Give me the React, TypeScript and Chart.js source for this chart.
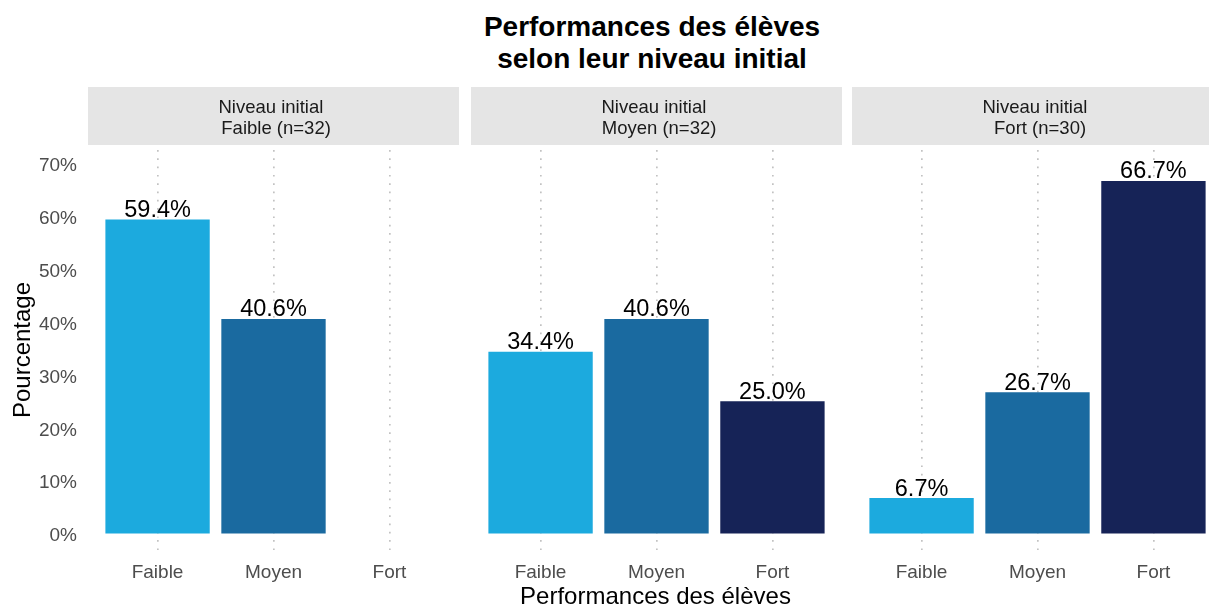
import React, { useEffect, useRef } from "react";
import { Chart, registerables } from "chart.js";

Chart.register(...registerables);

// ---- Data ----
const categories = ["Faible", "Moyen", "Fort"];
const panelTitle = "Niveau initial ";
const panelLabels = [" Faible (n=32)", " Moyen (n=32)", " Fort (n=30)"];
const faibleInitialValues: (number | null)[] = [59.4, 40.6, null];
const moyenInitialValues: (number | null)[] = [34.4, 40.6, 25.0];
const fortInitialValues: (number | null)[] = [6.7, 26.7, 66.7];
const yTicks = [0, 10, 20, 30, 40, 50, 60, 70];
const barColors = ["#1CAADE", "#1A6AA0", "#162357"];

const FONT = "'Liberation Sans', Arial, Helvetica, sans-serif";

const stripPlugin = {
  id: "strip",
  beforeDraw(chart: any, _args: any, opts: any) {
    const { ctx, chartArea } = chart;
    ctx.save();
    ctx.fillStyle = "#E5E5E5";
    ctx.fillRect(chartArea.left, 0, chartArea.right - chartArea.left, 58);
    ctx.fillStyle = "#1A1A1A";
    ctx.font = `18.5px ${FONT}`;
    ctx.textAlign = "center";
    ctx.textBaseline = "alphabetic";
    const cx = (chartArea.left + chartArea.right) / 2;
    const lines: string[] = opts.lines || [];
    lines.forEach((l, i) => ctx.fillText(l, cx, 26 + i * 21));
    ctx.restore();
  },
};

const valueLabelPlugin = {
  id: "valueLabels",
  afterDatasetsDraw(chart: any) {
    const ctx = chart.ctx;
    const meta = chart.getDatasetMeta(0);
    const ds = chart.data.datasets[0].data as any[];
    ctx.save();
    ctx.font = `23.5px ${FONT}`;
    ctx.fillStyle = "#000000";
    ctx.textAlign = "center";
    ctx.textBaseline = "alphabetic";
    meta.data.forEach((el: any, i: number) => {
      const v = ds[i].y;
      if (v === null || v === undefined) return;
      ctx.fillText(v.toFixed(1) + "%", el.x, el.y - 2.5);
    });
    ctx.restore();
  },
};

type PanelProps = {
  values: (number | null)[];
  label: string;
  showY: boolean;
  left: number;
  width: number;
};

const TOP = 87;
const HEIGHT = 513;

function Panel({ values, label, showY, left, width }: PanelProps) {
  const ref = useRef<HTMLCanvasElement | null>(null);
  useEffect(() => {
    if (!ref.current) return;
    const chart = new Chart(ref.current, {
      type: "bar",
      data: {
        datasets: [
          {
            data: categories.map((_, i) => ({ x: i, y: values[i] })) as any,
            backgroundColor: barColors,
            borderWidth: 0,
            barPercentage: 0.9,
            categoryPercentage: 1,
          },
        ],
      },
      options: {
        animation: false,
        responsive: false,
        devicePixelRatio: 1,
        layout: { padding: { top: 58, left: 0, right: 0, bottom: 0 } },
        plugins: {
          legend: { display: false },
          tooltip: { enabled: false },
          title: { display: false },
          strip: { lines: [panelTitle, label] },
        } as any,
        scales: {
          x: {
            type: "linear",
            min: -0.6,
            max: 2.6,
            offset: false,
            grid: {
              display: true,
              offset: false,
              drawTicks: false,
              color: "#C2C2C2",
              lineWidth: 1.7,
            },
            border: { display: false, dash: [1.7, 6.6], dashOffset: 3.3 },
            afterBuildTicks: (s: any) => {
              s.ticks = categories.map((_, i) => ({ value: i }));
            },
            afterFit: (s: any) => {
              s.height = 48;
            },
            ticks: {
              callback: (v: any) => categories[v as number],
              font: { family: FONT, size: 19 },
              color: "#4D4D4D",
              padding: 9,
              maxRotation: 0,
              autoSkip: false,
            },
          } as any,
          y: {
            display: showY,
            min: -3.5,
            max: 73.5,
            grid: { display: false, drawTicks: false },
            border: { display: false },
            afterBuildTicks: (s: any) => {
              s.ticks = yTicks.map((v) => ({ value: v }));
            },
            afterFit: (s: any) => {
              s.width = showY ? 88 : 0;
            },
            ticks: {
              callback: (v: any) => v + "%",
              font: { family: FONT, size: 19 },
              color: "#4D4D4D",
              padding: 11,
              labelOffset: 2.5,
            },
          } as any,
        },
      },
      plugins: [stripPlugin, valueLabelPlugin],
    });
    return () => chart.destroy();
  }, [values, label, showY]);

  return (
    <canvas
      ref={ref}
      width={width}
      height={HEIGHT}
      style={{ position: "absolute", left, top: TOP, width, height: HEIGHT }}
    />
  );
}

export default function App() {
  return (
    <div
      style={{
        position: "absolute",
        left: 0,
        top: 0,
        width: 1209,
        height: 606,
        overflow: "hidden",
        background: "#FFFFFF",
        fontFamily: FONT,
      }}
    >
      <div
        style={{
          position: "absolute",
          left: 0,
          top: 11,
          width: 1304,
          textAlign: "center",
          fontWeight: "bold",
          fontSize: 28,
          lineHeight: "32px",
          color: "#000",
        }}
      >
        Performances des élèves
        <br />
        selon leur niveau initial
      </div>
      <Panel values={faibleInitialValues} label={panelLabels[0]} showY={true} left={0} width={459} />
      <Panel values={moyenInitialValues} label={panelLabels[1]} showY={false} left={471} width={371} />
      <Panel values={fortInitialValues} label={panelLabels[2]} showY={false} left={852} width={371} />
      <div
        style={{
          position: "absolute",
          left: 21.7 - 150,
          top: 350 - 14,
          width: 300,
          height: 28,
          lineHeight: "28px",
          fontSize: 24,
          textAlign: "center",
          color: "#000",
          transform: "rotate(-90deg)",
          whiteSpace: "nowrap",
        }}
      >
        Pourcentage
      </div>
      <div
        style={{
          position: "absolute",
          left: 655.5 - 300,
          top: 581.7,
          width: 600,
          height: 28,
          lineHeight: "28px",
          fontSize: 24,
          textAlign: "center",
          color: "#000",
          whiteSpace: "nowrap",
        }}
      >
        Performances des élèves
      </div>
    </div>
  );
}
